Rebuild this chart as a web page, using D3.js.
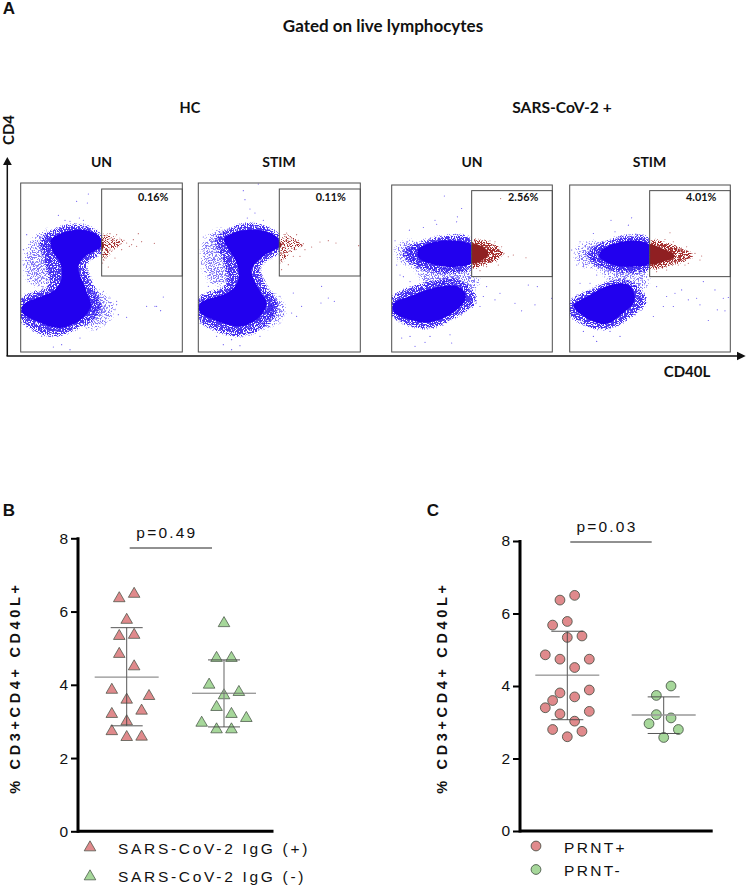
<!DOCTYPE html>
<html><head><meta charset="utf-8">
<script src="https://cdnjs.cloudflare.com/ajax/libs/d3/7.8.5/d3.min.js"></script>
<style>html,body{margin:0;padding:0;background:#fff}svg{display:block}</style></head>
<body><svg id="c" width="747" height="887"></svg>
<script>
// ---- flow cytometry panels (channel values)
const flowTitles = ["UN","STIM","UN","STIM"];
const flowPct = ["0.16%","0.11%","2.56%","4.01%"];
const flowDomX = [[62,547],[595,1081],[35,517],[569,1051]];
const flowDomY = [[100,607],[100,607],[104,607],[104,607]];
const flowGateX = [305,838,275,809];
const flowGateY = [[118,379],[118,379],[121,380],[121,380]];
const blueBlobs = [
 [[[305,272],[285,250],[238,240],[185,250],[152,272],[158,305],[180,340],[185,385],[165,420],[70,465],[66,488],[110,515],[180,535],[240,512],[272,470],[258,420],[235,355],[250,325],[305,290]]],
 [[[838,272],[812,250],[750,240],[705,248],[672,268],[690,305],[712,345],[715,390],[690,425],[600,462],[600,488],[640,510],[720,530],[775,505],[800,460],[775,415],[755,360],[790,320],[838,290]]],
 [[[275,285],[230,272],[170,274],[115,297],[115,322],[170,346],[230,350],[275,338]],[[255,428],[230,408],[170,412],[100,435],[40,462],[42,488],[90,510],[145,518],[210,495],[255,452]]],
 [[[809,285],[770,272],[720,276],[665,300],[658,320],[700,345],[760,350],[809,340]],[[762,430],[745,405],[690,405],[630,435],[580,468],[595,488],[640,515],[680,522],[735,485],[762,458]]]
];
const blueHalos = [
 [[[305,262],[240,228],[160,245],[125,270],[140,340],[150,410],[62,450],[62,505],[150,555],[225,535],[300,480],[272,400],[255,340],[305,300]]],
 [[[838,262],[760,225],[680,245],[650,270],[680,350],[680,410],[595,450],[595,505],[710,555],[790,530],[830,470],[790,400],[775,350],[838,300]]],
 [[[275,270],[190,262],[95,290],[70,310],[110,345],[200,365],[275,350]],[[275,425],[230,392],[140,402],[37,448],[37,495],[140,532],[240,490],[285,455]]],
 [[[809,270],[730,262],[650,290],[620,312],[680,355],[809,352]],[[785,430],[730,392],[650,415],[569,462],[569,490],[670,535],[755,495],[795,455]]]
];
const blueOuter = [
 [[[170,230],[100,255],[66,330],[90,410],[175,400],[150,300]],[[270,410],[345,460],[335,515],[250,545]]],
 [[[690,230],[615,255],[600,340],[630,410],[700,395],[670,300]],[[790,410],[865,480],[835,525],[770,545]]],
 [[[110,265],[40,285],[55,340],[125,350]],[[110,345],[285,355],[300,420],[130,405]]],
 [[[670,270],[575,295],[600,352],[680,352]],[[660,350],[805,355],[800,425],[690,400]]]
];
const redBlobs = [
 [[305,276],[310,280],[312,290],[307,300],[305,296]],
 [[838,276],[843,280],[845,288],[841,294],[838,292]],
 [[275,285],[305,288],[325,310],[308,330],[275,340]],
 [[809,285],[850,297],[885,318],[850,335],[809,342]]
];
const redHalos = [
 [[305,250],[350,258],[385,282],[345,300],[325,325],[305,340]],
 [[838,255],[880,258],[915,290],[875,312],[850,340],[838,345]],
 [[275,272],[330,278],[370,312],[325,340],[275,352]],
 [[809,272],[865,282],[940,318],[870,345],[809,355]]
];
const blueDots = [
 [[265,133],[230,155],[262,160],[175,197],[195,212],[210,215],[238,205],[250,212],[80,255],[70,300],[95,340],[88,395],[110,370],[125,330],[310,425],[330,445],[350,455],[345,480],[380,503],[325,498],[355,495],[300,520],[290,540],[240,565],[210,600],[160,592],[185,585],[100,545],[125,560],[440,470],[465,470],[490,442],[482,483],[470,470],[350,465],[315,470]],
 [[775,103],[730,123],[735,150],[750,178],[765,190],[742,205],[790,212],[610,262],[620,290],[605,340],[640,370],[660,395],[625,410],[695,600],[720,588],[695,570],[650,560],[670,585],[850,470],[850,495],[875,490],[890,500],[905,470],[965,410],[963,460],[985,445],[1003,455],[840,520],[780,560],[620,530],[840,440],[880,430]],
 [[193,137],[245,175],[232,200],[230,215],[165,210],[88,240],[130,232],[170,222],[45,272],[50,345],[60,375],[70,380],[90,395],[120,375],[310,440],[345,450],[405,460],[425,483],[445,405],[472,410],[515,445],[465,465],[300,470],[65,565],[90,560],[135,578],[150,560],[215,580],[210,555],[105,590],[320,410],[360,430]],
 [[693,210],[755,203],[745,225],[705,245],[640,250],[600,275],[575,300],[590,345],[610,350],[650,375],[630,400],[600,400],[830,410],[860,440],[885,430],[925,450],[950,445],[970,395],[1005,420],[1045,443],[1035,483],[985,512],[1012,480],[820,500],[850,470],[650,575],[690,545],[720,560],[640,560],[610,545],[880,470],[905,420],[960,465],[1030,445]]
];
const redDots = [
 [[415,252],[400,270],[425,276],[463,281],[410,290],[395,285],[380,280],[365,300],[350,255],[360,268],[335,305],[325,352],[308,340],[318,325],[345,325],[372,272],[388,290],[352,292],[340,268],[330,252],[318,258],[362,283],[345,282],[330,298]],
 [[935,292],[960,277],[985,273],[1008,280],[1076,288],[905,290],[915,300],[890,255],[860,250],[900,320],[865,345],[845,360],[840,340],[880,320],[895,272],[875,265],[910,282],[885,300],[868,282],[855,260],[890,285],[860,305],[848,318]],
 [[400,315],[385,320],[365,290],[372,310],[345,275],[330,272],[438,323],[350,335],[320,350],[300,362],[362,145],[355,345]],
 [[965,318],[945,310],[930,325],[925,340],[960,330],[920,290],[880,275],[870,248],[855,268],[895,345],[860,360],[830,365],[905,300],[915,345]]
];
const redGain=[0.75,0.75,1.3,1.3], redThr=[0.36,0.36,0.3,0.3];
// ---- dot plots
const yTicks = [0,2,4,6,8];
const igGPos   = [6.48,6.36,5.77,5.33,5.36,4.84,4.5,3.86,3.69,3.59,3.2,3.29,3.0,2.73,2.58,2.57];
const igGPosOff= [1,-1,0,-1,1,-1,1,-2,3,0,-2,2,0,-2,2,0];
const igGNeg   = [5.68,4.73,4.73,4.0,3.71,3.8,3.39,3.2,3.09,2.96,2.78,2.78];
const igGNegOff= [0,-1,1,-2,0,2,-1,1,3,-3,-1,1];
const prntPos   = [6.5,6.37,5.78,5.68,5.38,5.34,4.86,4.74,4.74,4.51,3.89,3.81,3.7,3.6,3.4,3.3,3.23,3.03,2.8,2.75,2.6];
const prntPosOff= [1,-1,0,-2,2,0,-3,-1,3,1,3,-1,1,-2,-3,3,-1,1,-2,2,0];
const prntNeg   = [4.0,3.74,3.21,3.12,2.96,2.8,2.58];
const prntNegOff= [1,-1,-1,1,-2,2,0];
const statsB = [{mean:4.21,hi:5.56,lo:2.88},{mean:3.77,hi:4.68,lo:2.85}];
const statsC = [{mean:4.3,hi:5.51,lo:3.07},{mean:3.2,hi:3.7,lo:2.69}];
const colPos="#e08a8c", colNeg="#a6d79a", colMark="#3d4a3d";

const svg=d3.select("#c");
const sans="'Liberation Sans',Arial,sans-serif", cal="Lato,'Open Sans',sans-serif";
const defs=svg.append("defs");
function stipple(id,color,seed,blur,freq,gain,thr){
  const f=defs.append("filter").attr("id",id).attr("filterUnits","userSpaceOnUse")
    .attr("x",0).attr("y",150).attr("width",747).attr("height",220)
    .attr("color-interpolation-filters","sRGB");
  f.append("feGaussianBlur").attr("in","SourceAlpha").attr("stdDeviation",blur).attr("result","b");
  f.append("feTurbulence").attr("type","fractalNoise").attr("baseFrequency",freq).attr("numOctaves",2).attr("seed",seed).attr("result","n");
  f.append("feColorMatrix").attr("in","n").attr("type","matrix")
    .attr("values","0 0 0 0 0 0 0 0 0 0 0 0 0 0 0 3 0 0 0 -1").attr("result","na");
  f.append("feComposite").attr("in","b").attr("in2","na").attr("operator","arithmetic")
    .attr("k1",gain).attr("k2",0).attr("k3",0).attr("k4",-thr).attr("result","s");
  const ct=f.append("feComponentTransfer").attr("in","s").attr("result","t");
  ct.append("feFuncA").attr("type","linear").attr("slope",4).attr("intercept",0);
  f.append("feFlood").attr("flood-color",color).attr("result","c");
  f.append("feComposite").attr("in","c").attr("in2","t").attr("operator","in");
}
const line=d3.line().curve(d3.curveCatmullRomClosed.alpha(0.5));
const plotTop=[183,183,185,185], plotBot=[352,352,352,352];
const plotL=[20.7,198.3,391.7,569.7], plotR=[182.3,360.3,552.3,730.3];

flowTitles.forEach((t,i)=>{
  const x=d3.scaleLinear().domain(flowDomX[i]).range([plotL[i],plotR[i]]);
  const y=d3.scaleLinear().domain(flowDomY[i]).range([plotTop[i],plotBot[i]]);
  const pt=p=>[x(p[0]),y(p[1])];
  stipple("sb"+i,"#2a10f0",3+i*7,3.4,0.9,1.6,0.22);
  stipple("so"+i,"#5a4cf4",31+i*3,6,0.73,1.0,0.42);
  stipple("sr"+i,"#a52f2f",9+i*5,2.6,0.9,redGain[i],redThr[i]);
  const gx=x(flowGateX[i]), gt=y(flowGateY[i][0]), gb=y(flowGateY[i][1]);
  const [l,r,tp,bt]=[plotL[i],plotR[i],plotTop[i],plotBot[i]];
  defs.append("clipPath").attr("id","nogate"+i).append("path").attr("clip-rule","evenodd")
    .attr("d",`M${l},${tp}H${r}V${bt}H${l}ZM${gx},${gt}H${r}V${gb}H${gx}Z`);
  defs.append("clipPath").attr("id","gate"+i).append("rect").attr("x",gx).attr("y",gt).attr("width",r-gx).attr("height",gb-gt);
  const g=svg.append("g");
  const gb1=g.append("g").attr("clip-path",`url(#nogate${i})`);
  gb1.append("g").attr("filter",`url(#so${i})`).attr("opacity",0.75).selectAll("path").data(blueOuter[i]).join("path")
    .attr("d",d=>line(d.map(pt)));
  gb1.append("g").attr("filter",`url(#sb${i})`).attr("opacity",0.85).selectAll("path").data(blueHalos[i]).join("path")
    .attr("d",d=>line(d.map(pt)));
  gb1.selectAll("circle").data(blueDots[i]).join("circle").attr("cx",d=>x(d[0])).attr("cy",d=>y(d[1])).attr("r",0.55).attr("fill","#5a48f0");
  gb1.append("g").selectAll("path").data(blueBlobs[i]).join("path")
    .attr("d",d=>line(d.map(pt))).attr("fill","#2200ee");
  const gr=g.append("g").attr("clip-path",`url(#gate${i})`);
  gr.append("path").attr("filter",`url(#sr${i})`).attr("d",line(redHalos[i].map(pt)));
  gr.append("path").attr("d",line(redBlobs[i].map(pt))).attr("fill","#8f1f22");
  gr.selectAll("circle").data(redDots[i]).join("circle").attr("cx",d=>x(d[0])).attr("cy",d=>y(d[1])).attr("r",0.55).attr("fill","#b85a5a");
  g.append("rect").attr("x",l).attr("y",tp).attr("width",r-l).attr("height",bt-tp).attr("fill","none").attr("stroke","#4d4d4d").attr("stroke-width",1);
  g.append("rect").attr("x",gx).attr("y",gt).attr("width",r-gx).attr("height",gb-gt).attr("fill","none").attr("stroke","#4d4d4d").attr("stroke-width",1);
  g.append("text").attr("x",gx+51.5).attr("y",201).attr("text-anchor","middle").attr("font-family",cal).attr("font-weight",700).attr("font-size",10.8).attr("fill","#111").text(flowPct[i]);
  svg.append("text").attr("x",[101.5,279,472,649.5][i]).attr("y",167).attr("text-anchor","middle").attr("font-family",cal).attr("font-weight",700).attr("font-size",14).attr("fill","#111").text(t);
});
function T(x,y,s,o={}){
  const e=svg.append("text").attr("x",x).attr("y",y).attr("text-anchor",o.a||"middle").attr("font-family",o.f||cal)
   .attr("font-weight",o.w||700).attr("font-size",o.z||14).attr("fill","#111").text(s);
  if(o.ls)e.attr("letter-spacing",o.ls);
  if(o.r)e.attr("transform",`rotate(${o.r} ${x} ${y})`);
  return e;
}
T(9,14,"A",{z:17,f:sans});
T(383,32,"Gated on live lymphocytes",{z:17});
T(190,113,"HC",{z:14.5});
T(562,113,"SARS-CoV-2 +",{z:15.6});
T(14,130,"CD4",{r:-90,z:15});
T(687,377,"CD40L",{z:15});
// arrows
svg.append("path").attr("d","M7.3,356V165").attr("stroke","#111").attr("stroke-width",1.5).attr("fill","none");
svg.append("path").attr("d","M3,165L7.3,157L11.8,165Z").attr("fill","#111");
svg.append("path").attr("d","M6.5,356H738").attr("stroke","#111").attr("stroke-width",1.5).attr("fill","none");
svg.append("path").attr("d","M737,351.7L745.7,356L737,360.3Z").attr("fill","#111");

function dotPlot(o){
  const g=svg.append("g");
  const y=d3.scaleLinear().domain([0,8]).range([o.y0,o.y8]);
  const x=d3.scaleLinear().domain([0,1]).range(o.cx);
  const ax=d3.axisLeft(y).tickValues(yTicks).tickFormat(d3.format("d")).tickSize(7).tickPadding(3);
  const a=g.append("g").attr("transform",`translate(${o.ax},0)`).call(ax);
  a.select(".domain").attr("stroke","#000").attr("stroke-width",3).attr("d",`M0,${o.y8-1}V${o.y0+1.5}`);
  a.selectAll(".tick line").attr("stroke","#000").attr("stroke-width",2);
  a.selectAll(".tick text").attr("font-family",sans).attr("font-size",15.5).attr("fill","#111");
  g.append("line").attr("x1",o.ax).attr("x2",o.xEnd).attr("y1",o.y0).attr("y2",o.y0).attr("stroke","#000").attr("stroke-width",3);
  const tri=d3.symbol().type(d3.symbolTriangle).size(o.sz);
  const mark=(sel,col)=>{
    if(o.kind==="tri") return sel.append("path").attr("d",tri).attr("fill",col).attr("stroke",colMark).attr("stroke-width",0.7);
    return sel.append("circle").attr("r",4.9).attr("fill",col).attr("stroke",colMark).attr("stroke-width",0.8);
  };
  o.series.forEach((s,k)=>{
    const pts=s.v.map((v,i)=>({v,off:s.off[i]}));
    const gg=g.append("g");
    pts.forEach(p=>{
      const m=gg.append("g").attr("transform",`translate(${x(k+p.off*o.step)},${y(p.v)})`);
      mark(m,s.c);
    });
    const st=o.stats[k], cx=x(k);
    const l=(x1,x2,y1,y2,w,c)=>g.append("line").attr("x1",x1).attr("x2",x2).attr("y1",y1).attr("y2",y2).attr("stroke",c).attr("stroke-width",w);
    l(cx,cx,y(st.hi),y(st.lo),s.vw||0.9,s.vc||"#444");
    l(cx-32,cx+32,y(st.mean),y(st.mean),s.mw||0.9,s.mc||"#666");
    l(cx-16,cx+16,y(st.hi),y(st.hi),0.9,"#444");
    l(cx-16,cx+16,y(st.lo),y(st.lo),0.9,"#444");
  });
  g.append("line").attr("x1",o.p[0]).attr("x2",o.p[1]).attr("y1",o.p[2]).attr("y2",o.p[2]).attr("stroke","#222").attr("stroke-width",1);
  T((o.p[0]+o.p[1])/2+(o.pdx||0),o.p[2]-o.pgap,o.ptxt,{f:sans,w:400,z:15.5,ls:2.2});
  T(o.yl[0],o.yl[1],"% CD3+CD4+ CD40L+",{f:sans,z:14.5,ls:3.65,r:-90});
  o.leg.forEach(d=>{
    const m=g.append("g").attr("transform",`translate(${o.legX},${d.y})`);
    mark(m,d.c);
    T(o.legT,d.ty,d.t,{f:sans,w:400,z:15.5,ls:o.legLs,a:"start"});
  });
}
dotPlot({kind:"tri",sz:58,y0:831.3,y8:538.3,ax:78,xEnd:273.5,cx:[126.7,224],step:0.0765,
 series:[{v:igGPos,off:igGPosOff,c:colPos},{v:igGNeg,off:igGNegOff,c:colNeg,vw:1.3,vc:"#888"}],
 stats:statsB,p:[129.7,212,548],pgap:10,ptxt:"p=0.49",pdx:-4,yl:[19.5,687.5],
 legX:90,legT:118,legLs:2.7,leg:[{y:847.5,ty:853.5,c:colPos,t:"SARS-CoV-2 IgG (+)"},{y:876.5,ty:882,c:colNeg,t:"SARS-CoV-2 IgG (-)"}]});
dotPlot({kind:"cir",y0:831,y8:541,ax:520,xEnd:712.7,cx:[567.3,663.7],step:0.0761,
 series:[{v:prntPos,off:prntPosOff,c:colPos},{v:prntNeg,off:prntNegOff,c:colNeg,mw:1.3,mc:"#999"}],
 stats:statsC,p:[570.3,651.7,542],pgap:10,ptxt:"p=0.03",pdx:-4,yl:[447,687.5],
 legX:536,legT:564,legLs:2.3,leg:[{y:846,ty:852.5,c:colPos,t:"PRNT+"},{y:869.5,ty:876,c:colNeg,t:"PRNT-"}]});
T(9,516,"B",{z:17,f:sans});
T(433,516,"C",{z:17,f:sans});
</script></body></html>
